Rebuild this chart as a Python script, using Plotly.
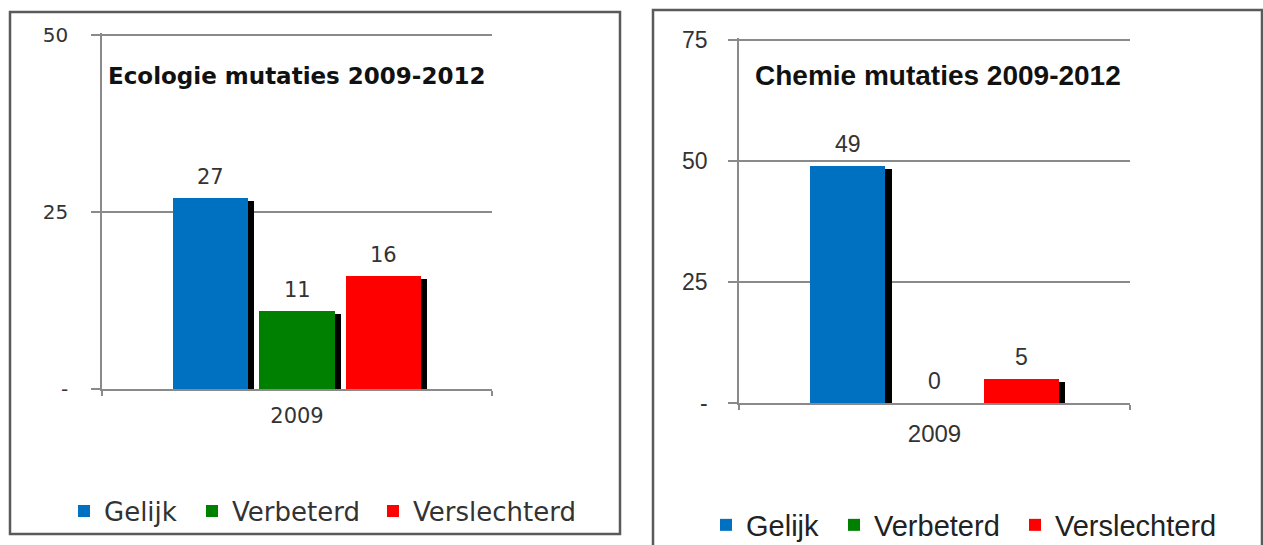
import plotly.graph_objects as go

# ---------------- data ----------------
categories = ["2009"]
series_names = ["Gelijk", "Verbeterd", "Verslechterd"]
series_colors = ["#0070C0", "#008000", "#FF0000"]

eco_title = "Ecologie mutaties 2009-2012"
eco_values = [27, 11, 16]
eco_tickvals = [0, 25, 50]
eco_ticktext = ["-", "25", "50"]

chem_title = "Chemie mutaties 2009-2012"
chem_values = [49, 0, 5]
chem_tickvals = [0, 25, 50, 75]
chem_ticktext = ["-", "25", "50", "75"]

# ---------------- layout constants ----------------
W, H = 1263, 545
SLOT = 0.222      # distance between bar centres (category units)
BAR_W = 0.193     # bar width (category units)
SHADOW_DX = 0.016 # shadow offset (category units)
SHADOW_PX = 3     # shadow top offset in px
EPS = 1.006       # small headroom so the top gridline is drawn
LEGEND_ITEM_W = [83, 136, None]  # legend entry text widths (px)

panels = [
    dict(title=eco_title, values=eco_values, tickvals=eco_tickvals, ticktext=eco_ticktext,
         xdom=(102, 492), ytop=35, ybot=389, xa="x", ya="y",
         font="DejaVu Sans", tfont="DejaVu Sans", tsize=23, lsize=21, ysize=20, csize=21,
         stand_y=19, stand_x=7, title_xy=(296, 76), lab_shift=21),
    dict(title=chem_title, values=chem_values, tickvals=chem_tickvals, ticktext=chem_ticktext,
         xdom=(739, 1130), ytop=40, ybot=403, xa="x2", ya="y2",
         font="Liberation Sans", tfont="Liberation Sans", tsize=28, lsize=23, ysize=23, csize=24,
         stand_y=16, stand_x=8, title_xy=(938, 75), lab_shift=22),
]

fig = go.Figure()
annotations = []
legend_ids = ["legend", "legend2"]
for k, p in enumerate(panels):
    ymax = p["tickvals"][-1]
    plot_h = p["ybot"] - p["ytop"]
    dy = SHADOW_PX * ymax / plot_h
    n = len(p["values"])
    for ci, cat in enumerate(categories):
        for i, v in enumerate(p["values"]):
            xc = ci + (i - (n - 1) / 2) * SLOT
            fig.add_trace(go.Bar(
                x=[xc + SHADOW_DX], y=[max(v - dy, 0)], width=BAR_W,
                marker=dict(color="#000000", line=dict(width=0)),
                showlegend=False, hoverinfo="skip",
                xaxis=p["xa"], yaxis=p["ya"]))
        for i, v in enumerate(p["values"]):
            xc = ci + (i - (n - 1) / 2) * SLOT
            bar_kw = {}
            if LEGEND_ITEM_W[i] is not None:
                bar_kw["legendwidth"] = LEGEND_ITEM_W[i]
            fig.add_trace(go.Bar(
                x=[xc], y=[v], width=BAR_W, name=series_names[i],
                marker=dict(color=series_colors[i], line=dict(width=0)),
                showlegend=True, legend=legend_ids[k],
                xaxis=p["xa"], yaxis=p["ya"], **bar_kw))
            annotations.append(dict(
                x=xc, y=v, xref=p["xa"], yref=p["ya"], text=str(v),
                showarrow=False, yanchor="middle", yshift=p["lab_shift"],
                font=dict(family=p["font"], size=p["lsize"], color="#333333")))
    annotations.append(dict(
        x=p["title_xy"][0] / W, y=1 - p["title_xy"][1] / H, xref="paper", yref="paper",
        text="<b>%s</b>" % p["title"], showarrow=False, xanchor="center", yanchor="middle",
        font=dict(family=p["tfont"], size=p["tsize"], color="#111111")))

axis_common = dict(showgrid=False, zeroline=False, showline=True, linecolor="#8a8a8a", linewidth=1.5)

for k, p in enumerate(panels):
    sfx = "" if k == 0 else "2"
    ymax = p["tickvals"][-1]
    top_px = p["ybot"] - (p["ybot"] - p["ytop"]) * EPS
    fig.update_layout(**{
        "xaxis" + sfx: dict(
            domain=[p["xdom"][0] / W, p["xdom"][1] / W],
            range=[-0.5, len(categories) - 0.5],
            tickvals=list(range(len(categories))), ticktext=categories,
            ticks="", ticklabelstandoff=p["stand_x"],
            tickfont=dict(family=p["font"], size=p["csize"], color="#333333"),
            minor=dict(tickvals=[-0.5, len(categories) - 0.5], ticks="outside",
                       ticklen=5, tickcolor="#8a8a8a", tickwidth=1.5),
            anchor="y" + sfx, fixedrange=True, automargin=False, **axis_common),
        "yaxis" + sfx: dict(
            domain=[1 - p["ybot"] / H, 1 - top_px / H],
            range=[0, ymax * EPS],
            tickvals=p["tickvals"], ticktext=p["ticktext"],
            showgrid=True, gridcolor="#8a8a8a", gridwidth=1.5,
            ticks="outside", ticklen=9, tickcolor="#8a8a8a", tickwidth=1.5,
            ticklabelstandoff=p["stand_y"],
            tickfont=dict(family=p["font"], size=p["ysize"], color="#333333"),
            anchor="x" + sfx, fixedrange=True, automargin=False,
            zeroline=False, showline=True, linecolor="#8a8a8a", linewidth=1.5),
    })

shapes = [
    dict(type="rect", xref="paper", yref="paper",
         x0=10 / W, x1=620 / W, y0=1 - 534 / H, y1=1 - 12 / H,
         line=dict(color="#5a5a5a", width=2.5), fillcolor="rgba(0,0,0,0)", layer="below"),
    dict(type="rect", xref="paper", yref="paper",
         x0=653 / W, x1=1262 / W, y0=1 - 548 / H, y1=1 - 10 / H,
         line=dict(color="#5a5a5a", width=2.5), fillcolor="rgba(0,0,0,0)", layer="below"),
]

fig.update_layout(
    width=W, height=H, autosize=False,
    margin=dict(l=0, r=0, t=0, b=0, pad=0, autoexpand=False),
    paper_bgcolor="white", plot_bgcolor="white",
    barmode="overlay", bargap=0,
    annotations=annotations, shapes=shapes,
    legend=dict(orientation="h", x=64 / W, y=1 - 511 / H, xanchor="left", yanchor="middle",
                font=dict(family="DejaVu Sans", size=26, color="#333333"),
                bgcolor="rgba(0,0,0,0)", itemclick=False, traceorder="normal"),
    legend2=dict(orientation="h", x=706 / W, y=1 - 525 / H, xanchor="left", yanchor="middle",
                 font=dict(family="Liberation Sans", size=29, color="#222222"),
                 bgcolor="rgba(0,0,0,0)", itemclick=False, traceorder="normal"),
)

fig.write_html("out.html", config={"displayModeBar": False},
               post_script="document.body.style.margin='0';")
